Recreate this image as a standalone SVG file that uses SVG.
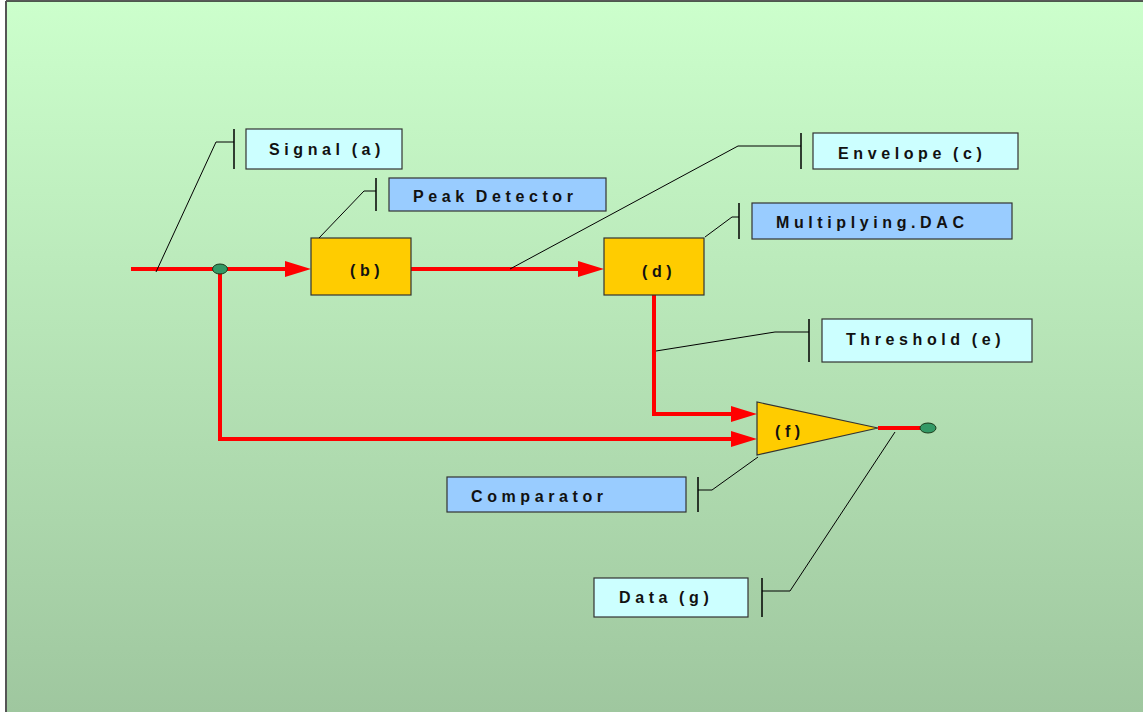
<svg xmlns="http://www.w3.org/2000/svg" width="1143" height="712" viewBox="0 0 1143 712">
  <defs>
    <linearGradient id="bg" x1="0" y1="0" x2="0" y2="1">
      <stop offset="0" stop-color="#ccffcc"/>
      <stop offset="1" stop-color="#9fc79f"/>
    </linearGradient>
    <marker id="arrow" markerUnits="userSpaceOnUse" markerWidth="26" markerHeight="16" refX="16" refY="8" orient="auto">
      <path d="M0,0 L26,8 L0,16 z" fill="#ff0000"/>
    </marker>
    <style>
      .wire { fill: none; stroke: #ff0000; stroke-width: 4; }
      .block { fill: #ffcc00; stroke: #333333; stroke-width: 1.2; }
      .dot { fill: #339966; stroke: #1a3a1a; stroke-width: 1; }
      .callout { fill: none; stroke: #000000; stroke-width: 1; }
      .tick { stroke: #000000; stroke-width: 1.5; }
      .tag-light { fill: #ccffff; stroke: #333333; stroke-width: 1.2; }
      .tag-blue { fill: #99ccff; stroke: #333333; stroke-width: 1.2; }
      text { font-family: "Liberation Sans", Arial, sans-serif; font-weight: bold; font-size: 16px; letter-spacing: 4.6px; word-spacing: -2px; fill: #111111; }
    </style>
  </defs>

  <!-- page background -->
  <rect x="0" y="0" width="1143" height="712" fill="#ffffff"/>
  <rect x="6" y="1" width="1137" height="711" fill="url(#bg)"/>
  <line x1="6" y1="1" x2="1143" y2="1" stroke="#222222" stroke-width="1.5"/>
  <line x1="6" y1="1" x2="6" y2="712" stroke="#555555" stroke-width="2"/>

  <!-- signal wires -->
  <g id="connectors">
    <path class="wire" d="M131,269 H220"/>
    <path class="wire" d="M220,269 H301" marker-end="url(#arrow)"/>
    <path class="wire" d="M411,269 H594" marker-end="url(#arrow)"/>
    <path class="wire" d="M654,295 V414 H747" marker-end="url(#arrow)"/>
    <path class="wire" d="M220,269 V439 H747" marker-end="url(#arrow)"/>
    <path class="wire" d="M878,428 H920"/>
  </g>

  <!-- junction and output terminal -->
  <g id="junction">
    <ellipse class="dot" cx="220" cy="269" rx="7.5" ry="5"/>
  </g>
  <g id="output-terminal">
    <ellipse class="dot" cx="928" cy="428" rx="8" ry="5"/>
  </g>

  <!-- processing blocks -->
  <g id="block-b">
    <rect class="block" x="311" y="238" width="100" height="57"/>
    <text x="350" y="276">(b)</text>
  </g>
  <g id="block-d">
    <rect class="block" x="604" y="238" width="100" height="57"/>
    <text x="642" y="277">(d)</text>
  </g>
  <g id="block-f">
    <polygon class="block" points="757,402 757,455 878,428"/>
    <text x="775" y="437">(f)</text>
  </g>

  <!-- callout labels -->
  <g id="label-signal">
    <polyline class="callout" points="156,272 216,142 234,142"/>
    <line class="tick" x1="234" y1="129" x2="234" y2="169"/>
    <rect class="tag-light" x="246" y="129" width="156" height="40"/>
    <text x="269" y="155">Signal (a)</text>
  </g>
  <g id="label-peak-detector">
    <polyline class="callout" points="319,238 364,191 376,191"/>
    <line class="tick" x1="376" y1="178" x2="376" y2="211"/>
    <rect class="tag-blue" x="389" y="178" width="217" height="33"/>
    <text x="413" y="202">Peak Detector</text>
  </g>
  <g id="label-envelope">
    <polyline class="callout" points="510,269 738,146 801,146"/>
    <line class="tick" x1="801" y1="133" x2="801" y2="169"/>
    <rect class="tag-light" x="813" y="133" width="205" height="36"/>
    <text x="838" y="159">Envelope (c)</text>
  </g>
  <g id="label-multiplying-dac">
    <polyline class="callout" points="705,237 732,217 739,217"/>
    <line class="tick" x1="739" y1="203" x2="739" y2="239"/>
    <rect class="tag-blue" x="752" y="203" width="260" height="36"/>
    <text x="776" y="228">Multiplying.DAC</text>
  </g>
  <g id="label-threshold">
    <polyline class="callout" points="656,351 775,332 809,332"/>
    <line class="tick" x1="809" y1="319" x2="809" y2="362"/>
    <rect class="tag-light" x="822" y="319" width="210" height="43"/>
    <text x="846" y="345">Threshold (e)</text>
  </g>
  <g id="label-comparator">
    <polyline class="callout" points="758,457 712,490 698,490"/>
    <line class="tick" x1="698" y1="477" x2="698" y2="512"/>
    <rect class="tag-blue" x="447" y="477" width="239" height="35"/>
    <text x="471" y="502">Comparator</text>
  </g>
  <g id="label-data">
    <polyline class="callout" points="895,432 790,591 762,591"/>
    <line class="tick" x1="762" y1="578" x2="762" y2="617"/>
    <rect class="tag-light" x="594" y="578" width="154" height="39"/>
    <text x="619" y="603">Data (g)</text>
  </g>
</svg>
